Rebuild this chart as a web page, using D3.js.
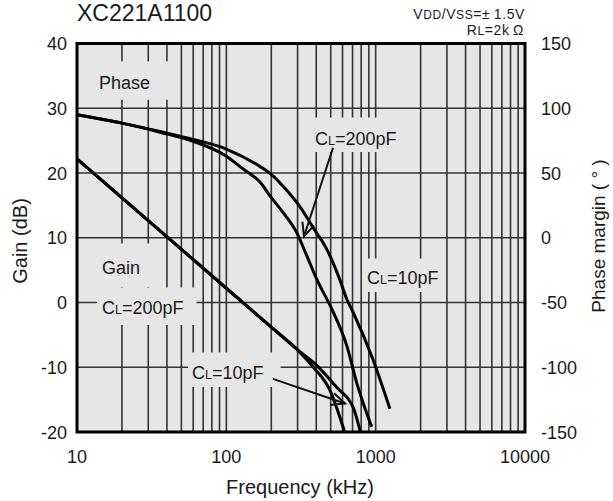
<!DOCTYPE html>
<html><head><meta charset="utf-8">
<script src="https://cdn.jsdelivr.net/npm/d3@7"></script>
<style>
body{margin:0;background:#fff}
svg{display:block}
text{font-family:Arial,"Liberation Sans",Helvetica,sans-serif;fill:#1a1a1a}
</style>
</head><body><svg id="c" width="613" height="501"></svg>
<script>
// ---- data ----
const freqTicks = [10, 100, 1000, 10000];
const gainTicks = [40, 30, 20, 10, 0, -10, -20];
const phaseTicks = [150, 100, 50, 0, -50, -100, -150];

// Gain, CL=200pF (kHz, dB)
const gain200F  = [10, 100, 200, 296, 383, 495, 620];
const gain200dB = [22.2, 2.2, -3.8, -7.2, -10.0, -13.6, -20];
// Gain, CL=10pF
const gain10F  = [10, 100, 200, 296, 403, 548, 710, 790];
const gain10dB = [22.2, 2.2, -3.8, -7.2, -9.7, -13.1, -16.3, -20];
// Phase, CL=200pF (kHz, deg)
const phase200F   = [10, 20, 36, 60, 100, 130, 168, 200, 240, 296, 346, 403, 518, 641, 751, 940];
const phase200Deg = [95, 88.5, 81.5, 74.5, 63, 53, 43, 31, 19.5, 4, -14, -32, -57, -83.5, -113, -146];
// Phase, CL=10pF
const phase10F   = [10, 20, 36, 60, 100, 168, 200, 239, 311, 380, 471, 574, 641, 703, 959, 1245];
const phase10Deg = [95, 88.5, 82, 76, 68.5, 55, 49, 40, 24, 8, -9, -32, -47.5, -57, -94, -132];

// annotations (text, anchor freq kHz, baseline in dB)
const labelText = ["Phase", "Gain", "C|L|=200pF", "C|L|=200pF", "C|L|=10pF", "C|L|=10pF"];
const labelF    = [14.05, 14.7, 14.7, 393, 876, 58.9];
const labelDb   = [33.0, 4.4, -1.85, 24.4, 2.86, -11.8];
const arrowFromF  = [518, 205];
const arrowFromDb = [23.9, -11.8];
const arrowToF    = [331, 624];
const arrowToDb   = [10.2, -15.6];

// ---- layout / style ----
const L = 77, R = 525, T = 43.5, B = 432;
const plotFill = "#e6e6e6";
const labelPads = [[11,26,11.5,7],[9,19,14.5,9],[5,13,11,6.5],[5,6,11,3.5],[5,7,9.5,4],[4,17,10.5,4]];

const svg = d3.select("#c");
const x = d3.scaleLog().domain([10, 10000]).range([L, R]);
const yG = d3.scaleLinear().domain([-20, 40]).range([B, T]);
const yP = d3.scaleLinear().domain([-150, 150]).range([B, T]);

svg.append("rect").attr("x", L).attr("y", T).attr("width", R - L).attr("height", B - T).attr("fill", plotFill);

// gridlines
const grid = svg.append("g").attr("stroke", "#333").attr("stroke-width", 1.6);
grid.selectAll("line.v").data(x.ticks()).join("line")
  .attr("x1", d => x(d)).attr("x2", d => x(d)).attr("y1", T).attr("y2", B);
grid.selectAll("line.h").data(gainTicks).join("line")
  .attr("x1", L).attr("x2", R).attr("y1", d => yG(d)).attr("y2", d => yG(d));

// labels (background first)
const labBgG = svg.append("g");
const curvesG = svg.append("g");
const labTxtG = svg.append("g");

labelText.forEach((t, i) => {
  const parts = t.split("|");
  const tx = labTxtG.append("text").attr("x", x(labelF[i])).attr("y", yG(labelDb[i])).attr("font-size", 18);
  if (parts.length === 1) tx.text(t);
  else {
    tx.append("tspan").text(parts[0]);
    tx.append("tspan").attr("font-size", 12.5).text(parts[1]);
    tx.append("tspan").text(parts[2]);
  }
  const bb = tx.node().getBBox();
  const p = labelPads[i];
  labBgG.append("rect").attr("x", bb.x - p[0]).attr("y", bb.y - p[2])
    .attr("width", bb.width + p[0] + p[1]).attr("height", bb.height + p[2] + p[3])
    .attr("fill", plotFill);
});

// curves
const lineG = d3.line().x(d => x(d[0])).y(d => yG(d[1])).curve(d3.curveMonotoneX);
const lineP = d3.line().x(d => x(d[0])).y(d => yP(d[1])).curve(d3.curveMonotoneX);
const series = [
  [lineG, d3.zip(gain200F, gain200dB)],
  [lineG, d3.zip(gain10F, gain10dB)],
  [lineP, d3.zip(phase200F, phase200Deg)],
  [lineP, d3.zip(phase10F, phase10Deg)]
];
series.forEach(([gen, data]) => {
  curvesG.append("path").attr("d", gen(data)).attr("fill", "none")
    .attr("stroke", "#000").attr("stroke-width", 3).attr("stroke-linejoin", "round");
});

// arrows
arrowFromF.forEach((f, i) => {
  const x1 = x(f), y1 = yG(arrowFromDb[i]), x2 = x(arrowToF[i]), y2 = yG(arrowToDb[i]);
  const a = Math.atan2(y1 - y2, x1 - x2), len = 15, sp = 0.42;
  const g = curvesG.append("g").attr("stroke", "#111").attr("stroke-width", 2).attr("fill", "none");
  g.append("line").attr("x1", x1).attr("y1", y1).attr("x2", x2).attr("y2", y2);
  g.append("path").attr("d",
    `M${x2 + len*Math.cos(a+sp)},${y2 + len*Math.sin(a+sp)}L${x2},${y2}L${x2 + len*Math.cos(a-sp)},${y2 + len*Math.sin(a-sp)}`);
});

// frame
svg.append("rect").attr("x", L).attr("y", T).attr("width", R - L).attr("height", B - T)
  .attr("fill", "none").attr("stroke", "#000").attr("stroke-width", 3);

// tick labels
svg.append("g").selectAll("text").data(gainTicks).join("text")
  .attr("x", 67).attr("y", d => yG(d) + 6.5).attr("text-anchor", "end").attr("font-size", 18).text(d => d);
svg.append("g").selectAll("text").data(phaseTicks).join("text")
  .attr("x", 541).attr("y", d => yP(d) + 6.5).attr("text-anchor", "start").attr("font-size", 18).text(d => d);
svg.append("g").selectAll("text").data(freqTicks).join("text")
  .attr("x", d => x(d)).attr("y", 463).attr("text-anchor", "middle").attr("font-size", 18).text(d => d);

// axis titles
svg.append("text").attr("x", (L + R) / 2 - 1).attr("y", 494).attr("text-anchor", "middle")
  .attr("font-size", 20).text("Frequency (kHz)");
svg.append("text").attr("transform", "translate(27,241) rotate(-90)").attr("text-anchor", "middle")
  .attr("font-size", 20).text("Gain (dB)");
svg.append("text").attr("transform", "translate(605,236) rotate(-90)").attr("text-anchor", "middle")
  .attr("font-size", 19).text("Phase margin ( ° )");

// title and conditions
svg.append("text").attr("x", 77).attr("y", 21).attr("font-size", 23).text("XC221A1100");
const c1 = svg.append("text").attr("x", 525).attr("y", 19).attr("text-anchor", "end")
  .attr("font-size", 14).attr("letter-spacing", 0.6);
c1.append("tspan").text("V");
c1.append("tspan").attr("font-size", 12).text("DD");
c1.append("tspan").text("/V");
c1.append("tspan").attr("font-size", 12).text("SS");
c1.append("tspan").text("=±\u20091.5V");
const c2 = svg.append("text").attr("x", 524).attr("y", 35).attr("text-anchor", "end")
  .attr("font-size", 14).attr("letter-spacing", 0.6);
c2.append("tspan").text("R");
c2.append("tspan").attr("font-size", 12).text("L");
c2.append("tspan").text("=2k\u2009Ω");
</script>
</body></html>
